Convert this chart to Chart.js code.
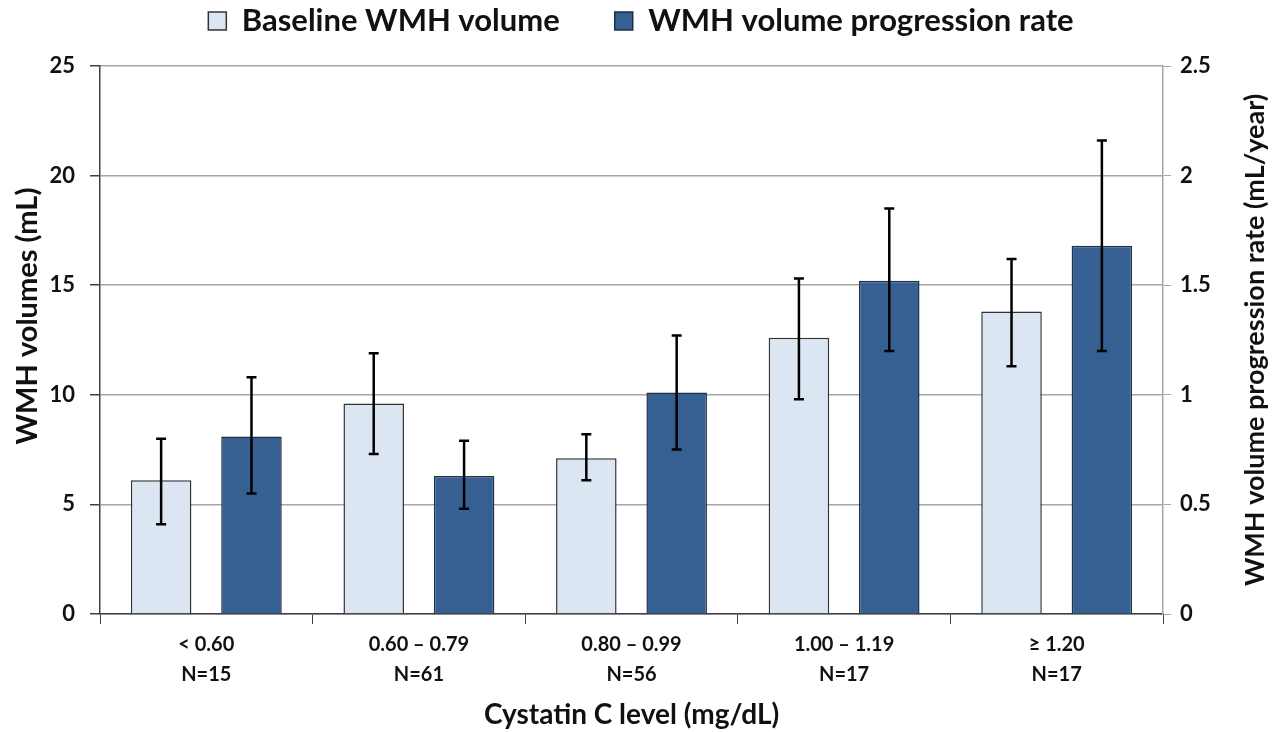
<!DOCTYPE html>
<html>
<head>
<meta charset="utf-8">
<script src="https://cdn.jsdelivr.net/npm/chart.js@4"></script>
<style>
  body { margin: 0; background: #fff; }
</style>
</head>
<body>
<canvas id="myChart" width="1282" height="732"></canvas>
<script>
// categories
const levels = ['< 0.60', '0.60 – 0.79', '0.80 – 0.99', '1.00 – 1.19', '≥ 1.20'];
const counts = ['N=15', 'N=61', 'N=56', 'N=17', 'N=17'];

// baseline WMH volume (mL), with error bar ends
const baseline = [6.1, 9.6, 7.1, 12.6, 13.8];
const baselineLow = [4.1, 7.3, 6.1, 9.8, 11.3];
const baselineHigh = [8.0, 11.9, 8.2, 15.3, 16.2];

// progression rate (mL/year), with error bar ends
const rate = [0.81, 0.63, 1.01, 1.52, 1.68];
const rateLow = [0.55, 0.48, 0.75, 1.20, 1.20];
const rateHigh = [1.08, 0.79, 1.27, 1.85, 2.16];

const leftTicks = [0, 5, 10, 15, 20, 25];
const rightTicks = [0, 0.5, 1, 1.5, 2, 2.5];

const FONT = 'Lato, "Open Sans", sans-serif';
const LEGEND_GAP = 55;
const LEGEND_FONT = 31;

// draws the error bars on top of the bars
const errorBars = {
    id: 'errorBars',
    afterDatasetsDraw(chart) {
        const ctx = chart.ctx;
        chart.data.datasets.forEach((ds, i) => {
            const meta = chart.getDatasetMeta(i);
            const scale = chart.scales[ds.yAxisID];
            meta.data.forEach((bar, j) => {
                const yLo = scale.getPixelForValue(ds.errLow[j]);
                const yHi = scale.getPixelForValue(ds.errHigh[j]);
                ctx.save();
                ctx.strokeStyle = '#000';
                ctx.lineWidth = 2.5;
                ctx.beginPath();
                ctx.moveTo(bar.x, yLo);
                ctx.lineTo(bar.x, yHi);
                ctx.moveTo(bar.x - 5, yLo);
                ctx.lineTo(bar.x + 5, yLo);
                ctx.moveTo(bar.x - 5, yHi);
                ctx.lineTo(bar.x + 5, yHi);
                ctx.stroke();
                ctx.restore();
            });
        });
    }
};

// wide gap between legend items, but keep the legend near the top
const legendSpacing = {
    id: 'legendSpacing',
    beforeLayout(chart) {
        const legend = chart.legend;
        if (legend && !legend._fixed) {
            const fit = legend.fit.bind(legend);
            legend.fit = () => { fit(); legend.height = 66; };
            legend._fixed = true;
        }
    },
    afterLayout(chart) {
        // text centre lands at y=21
        chart.legend.top = 21 - LEGEND_GAP - LEGEND_FONT / 2;
    }
};

// both y titles read bottom to top
const drawVerticalTitle = (ctx, text, x, y, size) => {
    ctx.save();
    ctx.translate(x, y);
    ctx.rotate(-Math.PI / 2);
    ctx.font = 'bold ' + size + 'px ' + FONT;
    ctx.fillStyle = '#111';
    ctx.textAlign = 'center';
    ctx.textBaseline = 'middle';
    ctx.fillText(text, 0, 0);
    ctx.restore();
};

const axisTitles = {
    id: 'axisTitles',
    afterDraw(chart) {
        const area = chart.chartArea;
        drawVerticalTitle(chart.ctx, 'WMH volumes (mL)', 28, 316, 29);
        drawVerticalTitle(chart.ctx, 'WMH volume progression rate (mL/year)', 1255, (area.top + area.bottom) / 2, 27);
    }
};

const labels = levels.map((l, i) => [l, counts[i]]);

Chart.defaults.color = '#111';
Chart.defaults.font.family = FONT;

new Chart(document.getElementById('myChart'), {
    type: 'bar',
    data: {
        labels: labels,
        datasets: [{
            label: 'Baseline WMH volume',
            data: baseline,
            errLow: baselineLow,
            errHigh: baselineHigh,
            yAxisID: 'y',
            backgroundColor: '#dce6f2',
            borderColor: '#333',
            borderWidth: 1.5,
            categoryPercentage: 0.85,
            barPercentage: 0.67
        }, {
            label: 'WMH volume progression rate',
            data: rate,
            errLow: rateLow,
            errHigh: rateHigh,
            yAxisID: 'y2',
            backgroundColor: '#376092',
            borderColor: '#1f2f45',
            borderWidth: 1.5,
            categoryPercentage: 0.85,
            barPercentage: 0.67
        }]
    },
    options: {
        responsive: false,
        animation: false,
        layout: { padding: 0 },
        plugins: {
            legend: {
                position: 'top',
                labels: {
                    boxWidth: 18,
                    boxHeight: 18,
                    padding: LEGEND_GAP,
                    font: { size: LEGEND_FONT, weight: 'bold' },
                    color: '#111'
                }
            },
            tooltip: { enabled: false }
        },
        scales: {
            x: {
                offset: true,
                grid: {
                    offset: true,
                    drawOnChartArea: false,
                    tickLength: 10,
                    tickColor: '#404040'
                },
                border: { color: '#404040', width: 1.5 },
                ticks: {
                    font: { size: 20, weight: 'bold', lineHeight: 1.5 },
                    padding: 6,
                    maxRotation: 0
                },
                title: {
                    display: true,
                    text: 'Cystatin C level (mg/dL)',
                    font: { size: 28, weight: 'bold' },
                    padding: { top: 0, bottom: 0 }
                },
                afterFit(scale) { scale.height = 118; }
            },
            y: {
                position: 'left',
                min: 0,
                max: 25,
                afterBuildTicks(scale) { scale.ticks = leftTicks.map(v => ({ value: v })); },
                grid: {
                    color: '#a6a6a6',
                    lineWidth: 1.5,
                    tickLength: 10,
                    tickColor: '#404040'
                },
                border: { color: '#404040', width: 1.5 },
                ticks: {
                    font: { size: 22, weight: 'bold' },
                    padding: 15
                },
                afterFit(scale) { scale.width = 100; }
            },
            y2: {
                position: 'right',
                min: 0,
                max: 2.5,
                afterBuildTicks(scale) { scale.ticks = rightTicks.map(v => ({ value: v })); },
                grid: {
                    drawOnChartArea: false,
                    tickLength: 8,
                    tickColor: '#a6a6a6'
                },
                border: { color: '#a6a6a6', width: 1.5 },
                ticks: {
                    font: { size: 22, weight: 'bold' },
                    padding: 9,
                    callback: (v) => String(v)
                },
                afterFit(scale) { scale.width = 119; }
            }
        }
    },
    plugins: [errorBars, legendSpacing, axisTitles]
});
</script>
</body>
</html>
